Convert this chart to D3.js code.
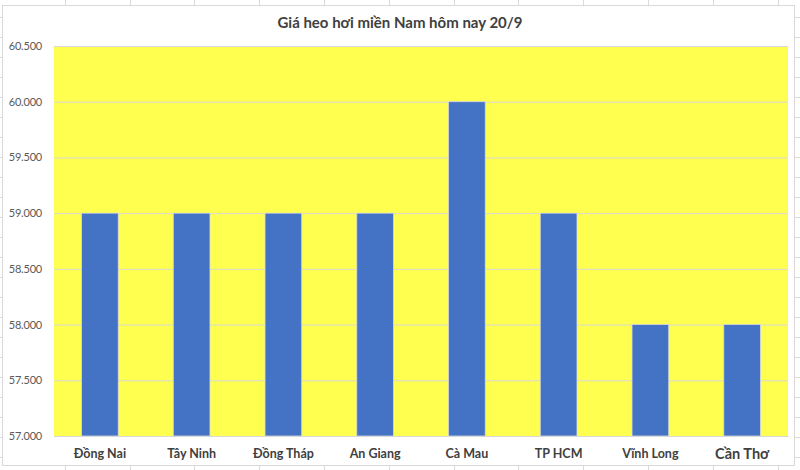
<!DOCTYPE html>
<html lang="vi">
  <head>
    <meta charset="UTF-8" />
    <title>Giá heo hơi miền Nam</title>
    <script src="https://d3js.org/d3.v7.min.js" charset="utf-8"></script>
    <style>
      body { margin: 0; background: #fff; }
      svg { display: block; font-family: Lato, "Open Sans", sans-serif; }
    </style>
  </head>
  <body>
    <div id="chart"></div>
    <script>
      const provinces = ["Đồng Nai", "Tây Ninh", "Đồng Tháp", "An Giang", "Cà Mau", "TP HCM", "Vĩnh Long", "Cần Thơ"];
      const prices = [59000, 59000, 59000, 59000, 60000, 59000, 58000, 58000];
      const yTicks = [57000, 57500, 58000, 58500, 59000, 59500, 60000, 60500];
      const title = "Giá heo hơi miền Nam hôm nay 20/9";

      const width = 800;
      const height = 470;
      const plot = { left: 54, right: 788, top: 46, bottom: 436 };

      const svg = d3.select("#chart")
        .append("svg")
        .attr("width", width)
        .attr("height", height);

      // spreadsheet cells behind the chart
      const sheet = svg.append("g").attr("stroke", "#dadada").attr("stroke-width", 1);
      sheet.selectAll("line.col")
        .data(d3.range(1, 13))
        .join("line")
        .attr("x1", i => Math.round(i * 64.8) + 0.5)
        .attr("x2", i => Math.round(i * 64.8) + 0.5)
        .attr("y1", 0)
        .attr("y2", height);
      sheet.selectAll("line.row")
        .data(d3.range(0, 25))
        .join("line")
        .attr("x1", 0)
        .attr("x2", width)
        .attr("y1", i => i * 20 + 17.5)
        .attr("y2", i => i * 20 + 17.5);

      // chart area
      svg.append("rect")
        .attr("x", 2.5)
        .attr("y", 5.5)
        .attr("width", 792)
        .attr("height", 460)
        .attr("fill", "#fff")
        .attr("stroke", "#d9d9d9");

      const x = d3.scaleBand()
        .domain(provinces)
        .range([plot.left, plot.right])
        .paddingInner(0.6)
        .paddingOuter(0.3);

      const y = d3.scaleLinear()
        .domain([57000, 60500])
        .range([plot.bottom, plot.top]);

      svg.append("rect")
        .attr("x", plot.left)
        .attr("y", plot.top)
        .attr("width", plot.right - plot.left)
        .attr("height", plot.bottom - plot.top)
        .attr("fill", "#ffff4f");

      const yAxis = d3.axisLeft(y)
        .tickValues(yTicks)
        .tickSize(-(plot.right - plot.left))
        .tickFormat(d => d3.format(",.0f")(d).replace(",", "."));

      svg.append("g")
        .attr("transform", `translate(${plot.left},0)`)
        .call(yAxis)
        .call(g => g.select(".domain").remove())
        .call(g => g.selectAll(".tick line").attr("stroke", "#d9d9d9"))
        .call(g => g.selectAll(".tick text")
          .attr("x", -12)
          .attr("fill", "#595959")
          .attr("font-size", 11)
          .attr("letter-spacing", -0.2)
          .attr("font-family", "Lato, sans-serif"));

      svg.append("g")
        .selectAll("rect")
        .data(provinces)
        .join("rect")
        .attr("x", d => x(d))
        .attr("y", (d, i) => y(prices[i]))
        .attr("width", x.bandwidth())
        .attr("height", (d, i) => y(57000) - y(prices[i]))
        .attr("fill", "#4472c4")
        .attr("stroke", "#d9d9d9")
        .attr("stroke-width", 0.8);

      const xAxis = d3.axisBottom(x).tickSize(0).tickPadding(13);
      svg.append("g")
        .attr("transform", `translate(0,${plot.bottom})`)
        .call(xAxis)
        .call(g => g.select(".domain").attr("stroke", "#d9d9d9"))
        .call(g => g.selectAll(".tick text")
          .attr("fill", "#404040")
          .attr("font-weight", "bold")
          .attr("font-size", d => d === "Cần Thơ" ? 14.5 : 12.5)
          .attr("font-family", "Lato, sans-serif"));

      svg.append("text")
        .attr("x", 400)
        .attr("y", 28)
        .attr("text-anchor", "middle")
        .attr("font-size", 15)
        .attr("font-weight", "bold")
        .attr("fill", "#404040")
        .text(title);
    </script>
  </body>
</html>
